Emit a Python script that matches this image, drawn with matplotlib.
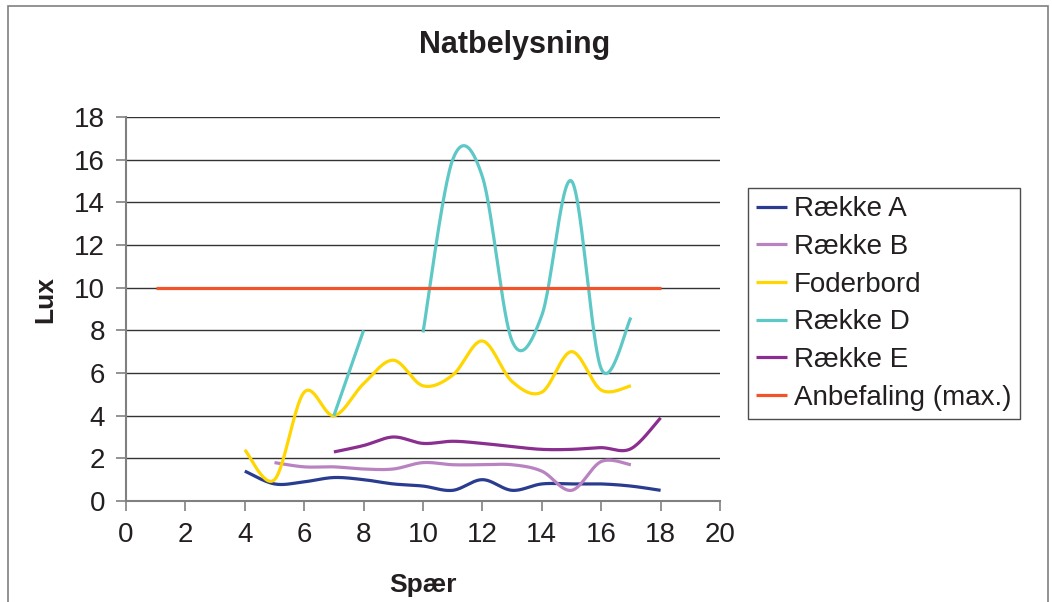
import numpy as np
import matplotlib
matplotlib.use("Agg")
import matplotlib.pyplot as plt
from matplotlib.patches import Rectangle

plt.rcParams['font.family'] = ['Liberation Sans', 'DejaVu Sans']

spaer = np.arange(1, 19)
nan = np.nan

raekke_a = [nan, nan, nan, 1.4, 0.8, 0.9, 1.1, 1.0, 0.8, 0.7, 0.5, 1.0, 0.5, 0.8, 0.8, 0.8, 0.7, 0.5]
raekke_b = [nan, nan, nan, nan, 1.8, 1.6, 1.6, 1.5, 1.5, 1.8, 1.7, 1.7, 1.7, 1.4, 0.5, 1.85, 1.7, nan]
foderbord = [nan, nan, nan, 2.4, 1.0, 5.1, 4.0, 5.5, 6.6, 5.4, 5.9, 7.5, 5.6, 5.1, 7.0, 5.2, 5.4, nan]
raekke_d = [nan, nan, nan, nan, nan, nan, 4.0, 8.0, nan, 7.9, 16.0, 15.2, 7.5, 8.7, 15.0, 6.2, 8.6, nan]
raekke_e = [nan, nan, nan, nan, nan, nan, 2.3, 2.6, 3.0, 2.7, 2.8, 2.7, 2.55, 2.42, 2.42, 2.5, 2.45, 3.9]
anbefaling = [10] * 18

series = [
    ("Række A", raekke_a, "#2A3C8F"),
    ("Række B", raekke_b, "#B983C2"),
    ("Foderbord", foderbord, "#FFD600"),
    ("Række D", raekke_d, "#5EC8C6"),
    ("Række E", raekke_e, "#8A2E90"),
    ("Anbefaling (max.)", anbefaling, "#F2532B"),
]


def smooth_segment(x, y, n=30):
    # cubic bezier through the points, tangents from the neighbours (Excel style)
    if len(x) < 3:
        return np.array(x, float), np.array(y, float)
    p = np.column_stack([x, y]).astype(float)
    out = []
    for i in range(len(p) - 1):
        p0 = p[i - 1] if i > 0 else p[i]
        p3 = p[i + 2] if i + 2 < len(p) else p[i + 1]
        c1 = p[i] + (p[i + 1] - p0) / 6.0
        c2 = p[i + 1] - (p3 - p[i]) / 6.0
        t = np.linspace(0, 1, n)[:, None]
        seg = ((1 - t) ** 3) * p[i] + 3 * ((1 - t) ** 2) * t * c1 + 3 * (1 - t) * t ** 2 * c2 + t ** 3 * p[i + 1]
        out.append(seg if i == 0 else seg[1:])
    out = np.vstack(out)
    return out[:, 0], out[:, 1]


def segments(x, y):
    y = np.array(y, float)
    ok = ~np.isnan(y)
    start = None
    for i in range(len(y) + 1):
        if i < len(y) and ok[i]:
            if start is None:
                start = i
        elif start is not None:
            yield x[start:i], y[start:i]
            start = None


fig = plt.figure(figsize=(10.52, 6.02), dpi=100)
ax = fig.add_axes([126 / 1052, 101 / 602, 594 / 1052, 384 / 602])

for label, vals, color in series:
    first = True
    for sx, sy in segments(spaer, vals):
        xs, ys = smooth_segment(sx, sy)
        ax.plot(xs, ys, color=color, lw=2.3, solid_capstyle='butt',
                label=label if first else None, zorder=3)
        first = False

ax.set_xlim(0, 20)
ax.set_ylim(0, 18)
ax.set_xticks(np.arange(0, 21, 2))
ax.set_yticks(np.arange(0, 19, 2))
ax.yaxis.grid(True, color='#333333', lw=1.0)
ax.set_axisbelow(True)
for side in ('top', 'right'):
    ax.spines[side].set_visible(False)
for side in ('left', 'bottom'):
    ax.spines[side].set_color('#808080')
    ax.spines[side].set_linewidth(1.5)
ax.tick_params(axis='both', labelsize=20, color='#808080', length=7, width=1.2,
               labelcolor='#231F20', pad=8)

fig.text(515 / 1052, 1 - 45 / 602, "Natbelysning", ha='center', va='center',
         fontsize=22, fontweight='bold', color='#231F20')
fig.text(423 / 1052, 1 - 585 / 602, "Spær", ha='center', va='center',
         fontsize=19, fontweight='bold', color='#231F20')
fig.text(45 / 1052, 1 - 300 / 602, "Lux", ha='center', va='center', rotation=90,
         fontsize=19, fontweight='bold', color='#231F20')

leg = fig.legend(loc='upper left', bbox_to_anchor=(748 / 1052, 1 - 188 / 602),
                 fontsize=20, frameon=True, fancybox=False, handlelength=1.1,
                 handletextpad=0.25, labelspacing=0.42, borderpad=0.3,
                 borderaxespad=0)
leg.get_frame().set_edgecolor('#231F20')
leg.get_frame().set_linewidth(1.0)
for t in leg.get_texts():
    t.set_color('#231F20')

# outer chart frame
fig.patches.append(Rectangle((8 / 1052, -0.05), 1040 / 1052, 1.05 - 6 / 602,
                             transform=fig.transFigure, fill=False,
                             edgecolor='#808080', lw=1.2))

fig.savefig("out.png", dpi=100)
